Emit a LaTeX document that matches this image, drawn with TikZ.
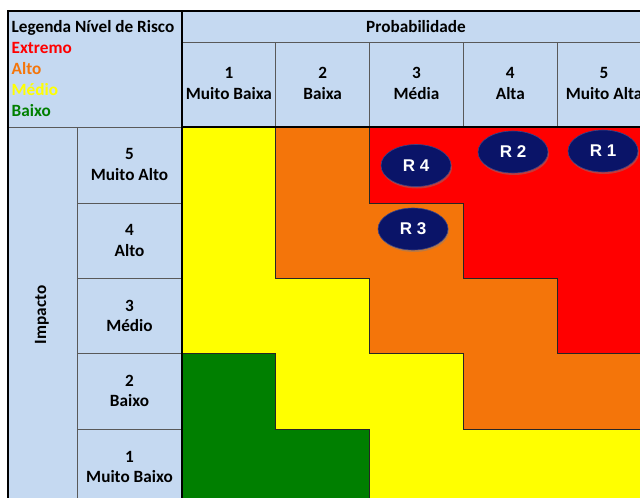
\documentclass[tikz,border=0pt]{standalone}
\usepackage{fontspec}
\setmainfont{Carlito}
\newfontfamily\arialfont{Liberation Sans}
\usetikzlibrary{shadows,shapes.geometric}
\definecolor{hdr}{HTML}{C5D9F1}
\definecolor{cred}{HTML}{FF0000}
\definecolor{corange}{HTML}{F4750A}
\definecolor{cyellow}{HTML}{FFFF00}
\definecolor{cgreen}{HTML}{007F00}
\definecolor{navy}{HTML}{0A1468}
\begin{document}
\begin{tikzpicture}[x=1pt,y=-1pt,
  hdrline/.style={draw=black!65,line width=0.9pt},
  region/.style={draw=black!85,line width=1pt},
  lbl/.style={font=\fontsize{17.2}{20}\selectfont\bfseries,inner sep=0pt,anchor=base},
  leg/.style={font=\fontsize{17.2}{20}\selectfont\bfseries,inner sep=0pt,anchor=base west},
  risk/.style={ellipse,fill=navy,draw=navy!80!white,line width=0.6pt,minimum width=70pt,minimum height=42pt,inner sep=0pt,
    text=white,font=\arialfont\fontsize{17}{18}\selectfont\bfseries,
    drop shadow={opacity=0.45,shadow xshift=1pt,shadow yshift=-2pt}}]
\useasboundingbox (0,0) rectangle (640,498);
\clip (0,0) rectangle (640,498);
\fill[white] (0,0) rectangle (640,498);
% header backgrounds
\fill[hdr] (8,11) rectangle (651,127);
\fill[hdr] (8,127) rectangle (182,505);
% colour regions
\path[region,fill=cred] (369,127) -- (651,127) -- (651,353) -- (557,353) -- (557,278) -- (463,278) -- (463,203) -- (369,203) -- cycle;
\path[region,fill=corange] (275,127) -- (369,127) -- (369,203) -- (463,203) -- (463,278) -- (557,278) -- (557,353) -- (651,353) -- (651,429) -- (463,429) -- (463,353) -- (369,353) -- (369,278) -- (275,278) -- cycle;
\path[region,fill=cyellow] (182,127) -- (275,127) -- (275,278) -- (369,278) -- (369,353) -- (463,353) -- (463,429) -- (651,429) -- (651,505) -- (369,505) -- (369,429) -- (275,429) -- (275,353) -- (182,353) -- cycle;
\path[region,fill=cgreen] (182,353) -- (275,353) -- (275,429) -- (369,429) -- (369,505) -- (182,505) -- cycle;
% header grid
\draw[hdrline] (182,42) -- (651,42);
\foreach \x in {275,369,463,557} \draw[hdrline] (\x,42) -- (\x,127);
\draw[hdrline] (8,127) -- (182,127);
\draw[hdrline] (77,127) -- (77,505);
\foreach \y in {203,278,353,429} \draw[hdrline] (77,\y) -- (182,\y);
\draw[black,line width=1.1pt] (182,11) -- (182,505);
\draw[black,line width=1.1pt] (182,127) -- (651,127);
\draw[black,line width=2pt] (8,505) -- (8,11) -- (651,11);
% legend
\node[leg] (legtitle) at (11.5,32.5) {Legenda Nível de Risco};
\node[leg,text=cred] (legext) at (11.5,53.5) {Extremo};
\node[leg,text=corange] (legalto) at (11.5,74.5) {Alto};
\node[leg,text=cyellow] (legmed) at (11.5,95.5) {Médio};
\node[leg,text=cgreen] (legbaixo) at (11.5,116) {Baixo};
% column headers
\node[lbl] (prob) at (416,32) {Probabilidade};
\node[lbl] (cn1) at (228.9,78.5) {1};
\node[lbl] (cw1) at (228.9,99.5) {Muito Baixa};
\node[lbl] (cn2) at (322.7,78.5) {2};
\node[lbl] (cw2) at (322.7,99.5) {Baixa};
\node[lbl] (cn3) at (416.5,78.5) {3};
\node[lbl] (cw3) at (416.5,99.5) {Média};
\node[lbl] (cn4) at (510.3,78.5) {4};
\node[lbl] (cw4) at (510.3,99.5) {Alta};
\node[lbl] (cn5) at (604.1,78.5) {5};
\node[lbl] (cw5) at (604.1,99.5) {Muito Alta};
% row headers
\node[lbl] (rn5) at (129.5,159.5) {5};
\node[lbl] (rw5) at (129.5,180.5) {Muito Alto};
\node[lbl] (rn4) at (129.5,235) {4};
\node[lbl] (rw4) at (129.5,256) {Alto};
\node[lbl] (rn3) at (129.5,311) {3};
\node[lbl] (rw3) at (129.5,331) {Médio};
\node[lbl] (rn2) at (129.5,386) {2};
\node[lbl] (rw2) at (129.5,406) {Baixo};
\node[lbl] (rn1) at (129.5,462) {1};
\node[lbl] (rw1) at (129.5,482) {Muito Baixo};
\node[font=\fontsize{17.2}{20}\selectfont\bfseries,inner sep=0pt,rotate=90] (impacto) at (42,315) {Impacto};
% risks
\node[risk] (r4) at (416,165.5) {R 4};
\node[risk] (r2) at (513,152) {R 2};
\node[risk] (r1) at (603,151) {R 1};
\node[risk] (r3) at (413,229) {R 3};
\end{tikzpicture}
\end{document}
